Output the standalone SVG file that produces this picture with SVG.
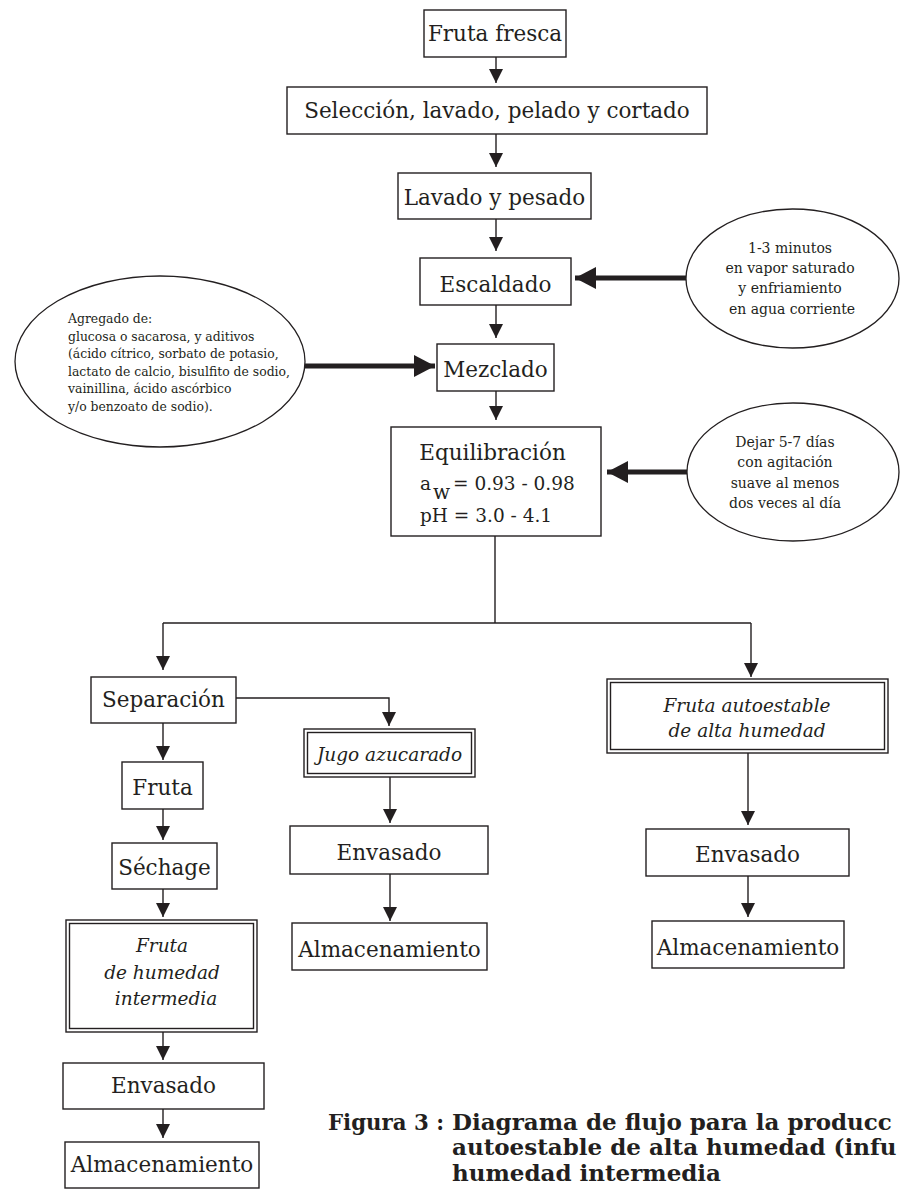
<svg xmlns="http://www.w3.org/2000/svg" width="907" height="1191" viewBox="0 0 907 1191">
<style>
.box{fill:#fff;stroke:#231f20;stroke-width:1.4}
.ell{fill:#fff;stroke:#231f20;stroke-width:1.3}
.t{font-family:"DejaVu Serif","Liberation Serif",serif;font-size:21.5px;fill:#231f20;text-anchor:middle}
.ti{font-family:"DejaVu Serif","Liberation Serif",serif;font-size:18.5px;font-style:italic;fill:#231f20;text-anchor:middle}
.ts{font-family:"DejaVu Serif","Liberation Serif",serif;font-size:14px;fill:#231f20;text-anchor:middle}
.tl{font-family:"DejaVu Serif","Liberation Serif",serif;font-size:12.4px;fill:#231f20}
.te{font-family:"DejaVu Serif","Liberation Serif",serif;font-size:18.5px;fill:#231f20}
.cap{font-family:"DejaVu Serif","Liberation Serif",serif;font-size:23px;font-weight:bold;fill:#231f20}
.c{fill:none;stroke:#231f20;stroke-width:1.4}
.ck{fill:none;stroke:#231f20;stroke-width:5}
</style>
<defs>
<marker id="ah" markerUnits="userSpaceOnUse" markerWidth="14" markerHeight="14" refX="14" refY="7" orient="auto">
<path d="M0,0 L14,7 L0,14 z" fill="#231f20"/>
</marker>
<marker id="ahb" markerUnits="userSpaceOnUse" markerWidth="21" markerHeight="22" refX="21" refY="11" orient="auto">
<path d="M0,0 L21,11 L0,22 z" fill="#231f20"/>
</marker>
</defs>
<g id="connectors">
<path class="c" d="M496,57 V83" marker-end="url(#ah)"/>
<path class="c" d="M496,134 V167" marker-end="url(#ah)"/>
<path class="c" d="M496,219 V251" marker-end="url(#ah)"/>
<path class="c" d="M496,305 V338" marker-end="url(#ah)"/>
<path class="c" d="M496,391 V420" marker-end="url(#ah)"/>
<path class="c" d="M495,536 V623 M163,623 H751"/>
<path class="c" d="M163,623 V670" marker-end="url(#ah)"/>
<path class="c" d="M751,623 V677" marker-end="url(#ah)"/>
<path class="c" d="M236,698 H389 V726" marker-end="url(#ah)"/>
<path class="c" d="M163,723 V760" marker-end="url(#ah)"/>
<path class="c" d="M163,809 V840" marker-end="url(#ah)"/>
<path class="c" d="M163,889 V917" marker-end="url(#ah)"/>
<path class="c" d="M163,1032 V1060" marker-end="url(#ah)"/>
<path class="c" d="M163,1109 V1138" marker-end="url(#ah)"/>
<path class="c" d="M390,777 V823" marker-end="url(#ah)"/>
<path class="c" d="M390,874 V921" marker-end="url(#ah)"/>
<path class="c" d="M748,753 V825" marker-end="url(#ah)"/>
<path class="c" d="M748,876 V917" marker-end="url(#ah)"/>
<path class="ck" d="M686,278 H575" marker-end="url(#ahb)"/>
<path class="ck" d="M305,366 H435" marker-end="url(#ahb)"/>
<path class="ck" d="M687,472 H607" marker-end="url(#ahb)"/>
</g>
<g id="fruta-fresca"><rect class="box" x="424" y="10" width="142" height="47"/><text class="t" x="495" y="41">Fruta fresca</text></g>
<g id="seleccion"><rect class="box" x="287" y="87" width="420" height="47"/><text class="t" x="497" y="118">Selección, lavado, pelado y cortado</text></g>
<g id="lavado"><rect class="box" x="398" y="173" width="193" height="46"/><text class="t" x="494.5" y="205">Lavado y pesado</text></g>
<g id="escaldado"><rect class="box" x="420" y="258" width="151" height="47"/><text class="t" x="495.5" y="292">Escaldado</text></g>
<g id="mezclado"><rect class="box" x="437" y="344" width="117" height="47"/><text class="t" x="495.5" y="377">Mezclado</text></g>
<g id="equilibracion"><rect class="box" x="391" y="427" width="210" height="109"/>
<text class="t" x="492.5" y="460">Equilibración</text>
<text class="te" x="420" y="490">a</text><text class="te" x="433" y="499" style="font-size:20px">w</text><text class="te" x="453" y="490">= 0.93 - 0.98</text>
<text class="te" x="420" y="522">pH = 3.0 - 4.1</text></g>
<g id="nota-escaldado"><ellipse class="ell" cx="792.5" cy="278.5" rx="106.5" ry="69.5"/>
<text class="ts" x="790" y="253">1-3 minutos</text><text class="ts" x="790" y="273">en vapor saturado</text><text class="ts" x="790" y="293">y enfriamiento</text><text class="ts" x="792" y="314">en agua corriente</text></g>
<g id="nota-mezclado"><ellipse class="ell" cx="160" cy="361.5" rx="145" ry="85.5"/>
<text class="tl" x="68" y="323">Agregado de:</text><text class="tl" x="68" y="340.6">glucosa o sacarosa, y aditivos</text><text class="tl" x="68" y="358.2">(ácido cítrico, sorbato de potasio,</text><text class="tl" x="68" y="375.8">lactato de calcio, bisulfito de sodio,</text><text class="tl" x="68" y="393.4">vainillina, ácido ascórbico</text><text class="tl" x="68" y="411">y/o benzoato de sodio).</text></g>
<g id="nota-equilibracion"><ellipse class="ell" cx="793" cy="472" rx="106" ry="69"/>
<text class="ts" x="785" y="447">Dejar 5-7 días</text><text class="ts" x="785" y="467">con agitación</text><text class="ts" x="785" y="488">suave al menos</text><text class="ts" x="785" y="508">dos veces al día</text></g>
<g id="separacion"><rect class="box" x="91" y="677" width="145" height="46"/><text class="t" x="163.5" y="707">Separación</text></g>
<g id="fruta"><rect class="box" x="122" y="762" width="81" height="47"/><text class="t" x="162.5" y="795">Fruta</text></g>
<g id="sechage"><rect class="box" x="112" y="843" width="105" height="46"/><text class="t" x="164.5" y="875">Séchage</text></g>
<g id="fruta-humedad-intermedia"><rect class="box" x="66" y="920" width="191" height="112"/><rect class="box" x="69.5" y="923.5" width="184" height="105"/>
<text class="ti" x="162" y="952">Fruta</text><text class="ti" x="162" y="979">de humedad</text><text class="ti" x="166" y="1005">intermedia</text></g>
<g id="envasado-1"><rect class="box" x="63" y="1063" width="201" height="46"/><text class="t" x="163.5" y="1093">Envasado</text></g>
<g id="almacenamiento-1"><rect class="box" x="65" y="1142" width="194" height="46"/><text class="t" x="162" y="1172">Almacenamiento</text></g>
<g id="jugo-azucarado"><rect class="box" x="304" y="729" width="171" height="48"/><rect class="box" x="307.5" y="732.5" width="164" height="41"/><text class="ti" x="389.5" y="761">Jugo azucarado</text></g>
<g id="envasado-2"><rect class="box" x="290" y="826" width="198" height="48"/><text class="t" x="389" y="860">Envasado</text></g>
<g id="almacenamiento-2"><rect class="box" x="292" y="923" width="195" height="47"/><text class="t" x="389.5" y="957">Almacenamiento</text></g>
<g id="fruta-autoestable"><rect class="box" x="607" y="679" width="281" height="74"/><rect class="box" x="610.5" y="682.5" width="274" height="67"/>
<text class="ti" x="747" y="712">Fruta autoestable</text><text class="ti" x="747" y="737">de alta humedad</text></g>
<g id="envasado-3"><rect class="box" x="646" y="829" width="203" height="47"/><text class="t" x="747.5" y="862">Envasado</text></g>
<g id="almacenamiento-3"><rect class="box" x="652" y="921" width="192" height="47"/><text class="t" x="748" y="955">Almacenamiento</text></g>
<g id="caption">
<text class="cap" x="328" y="1130" textLength="116" lengthAdjust="spacingAndGlyphs">Figura 3 :</text>
<text class="cap" x="452" y="1130">Diagrama de flujo para la producc</text>
<text class="cap" x="452" y="1155">autoestable de alta humedad (infu</text>
<text class="cap" x="452" y="1181">humedad intermedia</text>
</g>
</svg>
